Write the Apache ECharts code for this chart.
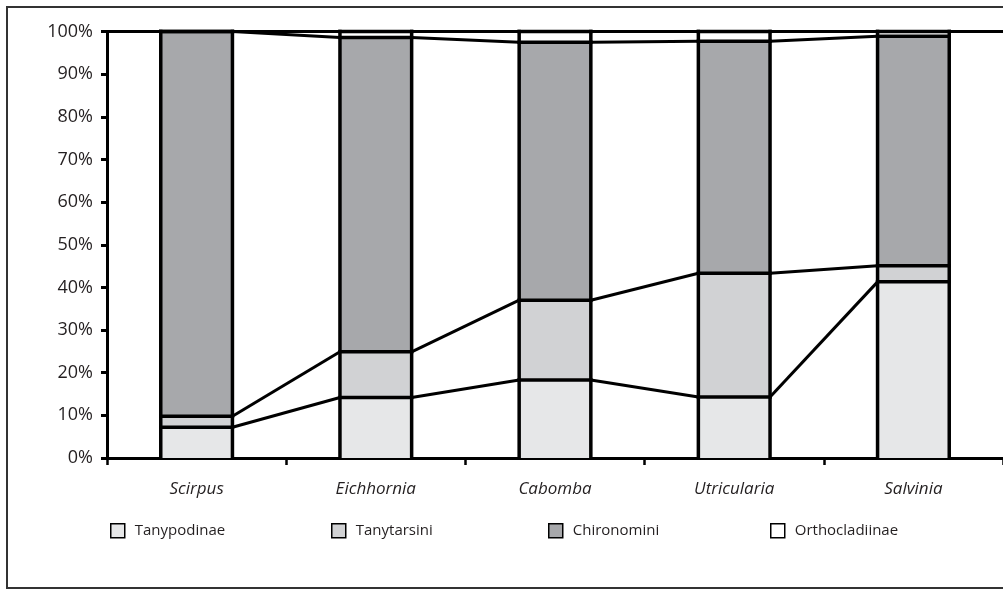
<!DOCTYPE html>
<html>
<head>
<meta charset="utf-8">
<script src="https://cdn.jsdelivr.net/npm/echarts@6/dist/echarts.min.js"></script>
<style>html,body{margin:0;padding:0;background:#fff}#c{width:1003px;height:591px}</style>
</head>
<body>
<div id="c"></div>
<script>
const categories = ['Scirpus', 'Eichhornia', 'Cabomba', 'Utricularia', 'Salvinia'];
const seriesNames = ['Tanypodinae', 'Tanytarsini', 'Chironomini', 'Orthocladiinae'];
const tanypodinae = [7.2, 14.2, 18.3, 14.3, 41.3];
const tanytarsini = [2.6, 10.7, 18.7, 29.0, 3.8];
const chironomini = [90.2, 73.7, 60.5, 54.4, 53.8];
const orthocladiinae = [0, 1.4, 2.5, 2.3, 1.1];
const yTicks = [0, 10, 20, 30, 40, 50, 60, 70, 80, 90, 100];

const layers = [tanypodinae, tanytarsini, chironomini, orthocladiinae];
const colors = ['#e6e7e8', '#d1d2d4', '#a7a8ab', '#ffffff'];
const txt = '#231f20';
const font = 'Open Sans';
const LW = 3.5;

// cumulative tops
const cum = [];
let run = categories.map(() => 0);
layers.forEach(l => { run = run.map((v, i) => v + l[i]); cum.push(run.slice()); });
const lineData = [];
cum.forEach(c => { for (let i = 0; i < c.length - 1; i++) lineData.push([i, c[i], c[i + 1]]); });
const outlineData = categories.map((c, i) => [i].concat(cum.map(cc => cc[i])));

const chart = echarts.init(document.getElementById('c'), null, {renderer: 'canvas'});
const barSeries = layers.map((l, k) => ({
  name: seriesNames[k], type: 'bar', stack: 'all', data: l,
  barWidth: '40%',
  itemStyle: {color: colors[k], borderWidth: 0},
  emphasis: {disabled: true}
}));
const legendLefts = [110, 331, 548, 770];
chart.setOption({
  animation: false,
  graphic: [{type: 'rect', shape: {x: 7, y: 7, width: 1020, height: 581}, style: {fill: 'none', stroke: '#333', lineWidth: 2}, silent: true, z: 100}],
  grid: {left: 107, top: 31.5, width: 902.5, height: 426.5, containLabel: false},
  legend: seriesNames.map((n, k) => ({
    data: [n], left: legendLefts[k], top: 523, padding: 0, icon: 'rect', itemWidth: 14, itemHeight: 14, itemGap: 0,
    itemStyle: {borderColor: '#000', borderWidth: 1.5},
    textStyle: {fontFamily: font, fontSize: 15, color: txt, padding: [0, 0, 0, 5]},
    selectedMode: false
  })),
  xAxis: [{
    type: 'category', data: categories, position: 'bottom',
    axisLine: {lineStyle: {color: '#000', width: 3}},
    axisTick: {show: true, length: 7, lineStyle: {color: '#000', width: 2.5}},
    axisLabel: {fontFamily: font, fontSize: 17, fontStyle: 'italic', color: txt, margin: 23}
  }, {
    type: 'category', data: categories, position: 'top',
    axisLine: {lineStyle: {color: '#000', width: 3}},
    axisTick: {show: false}, axisLabel: {show: false}
  }],
  yAxis: {
    type: 'value', min: 0, max: 100, interval: 10,
    axisLine: {show: true, lineStyle: {color: '#000', width: 3}},
    axisTick: {show: true, length: 6, lineStyle: {color: '#000', width: 3}},
    splitLine: {show: false},
    axisLabel: {fontFamily: font, fontSize: 18, color: txt, margin: 14, formatter: v => yTicks.includes(v) ? v + '%' : ''}
  },
  series: barSeries.concat([{
    type: 'custom', name: 'outlines', data: outlineData, silent: true, z: 5,
    encode: {x: 0, y: 4},
    renderItem: (params, api) => {
      const i = api.value(0);
      const bw = api.size([1, 0])[0] * 0.4;
      const p0 = api.coord([i, 0]);
      const xl = p0[0] - bw / 2, xr = p0[0] + bw / 2;
      const ys = [1, 2, 3, 4].map(d => api.coord([i, api.value(d)])[1]);
      const top = ys[3];
      const st = {stroke: '#000', lineWidth: LW, lineCap: 'square'};
      const children = [
        {type: 'line', shape: {x1: xl, y1: p0[1], x2: xl, y2: top}, style: st},
        {type: 'line', shape: {x1: xr, y1: p0[1], x2: xr, y2: top}, style: st}
      ];
      ys.forEach(y => children.push({type: 'line', shape: {x1: xl, y1: y, x2: xr, y2: y}, style: st}));
      return {type: 'group', children};
    }
  }, {
    type: 'custom', name: 'serieslines', data: lineData, silent: true, z: 5,
    encode: {x: 0, y: 1},
    renderItem: (params, api) => {
      const i = api.value(0);
      const p1 = api.coord([i, api.value(1)]);
      const p2 = api.coord([i + 1, api.value(2)]);
      const bw = api.size([1, 0])[0] * 0.4;
      return {type: 'line', shape: {x1: p1[0] + bw / 2, y1: p1[1], x2: p2[0] - bw / 2, y2: p2[1]},
        style: {stroke: '#000', lineWidth: 3}};
    }
  }])
});
</script>
</body>
</html>
